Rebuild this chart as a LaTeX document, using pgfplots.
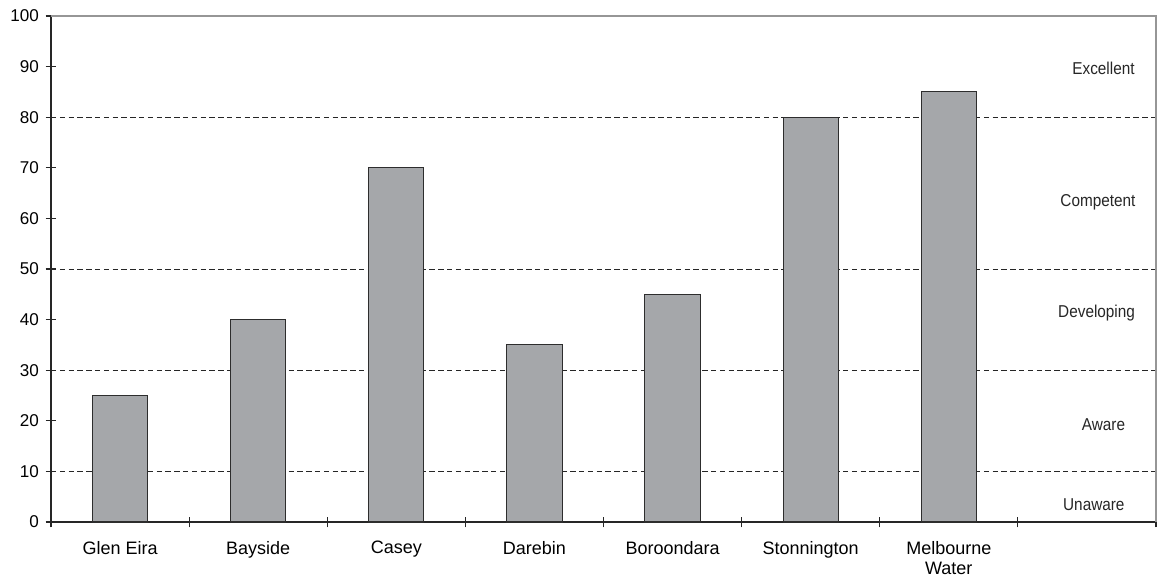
\documentclass[border=0pt]{standalone}
\usepackage{fontspec}
\setmainfont{Liberation Sans}
\usepackage{pgfplots}
\pgfplotsset{compat=1.18}

\definecolor{barfill}{RGB}{165,167,170}
\definecolor{baredge}{RGB}{45,45,45}
\definecolor{framegray}{RGB}{150,150,150}

\begin{document}
\begin{tikzpicture}[x=1pt,y=1pt]
\begin{axis}[
  scale only axis,
  width=828.75pt, height=379.5pt,
  xmin=-0.5, xmax=7.5,
  ymin=0, ymax=100,
  axis x line*=bottom, axis y line*=left,
  axis line style={-, line width=0.8pt, black!85},
  tick align=center,
  major tick length=8pt,
  tick style={line width=0.8pt, black!85},
  ytick={0,10,...,100},
  % slot boundaries carry the tick marks
  xtick={-0.5,0.5,...,7.5},
  xticklabels={},
  % category names sit under the bars, without marks
  extra x ticks={0,1,...,6},
  extra x tick labels={Glen Eira,Bayside,Casey,Darebin,Boroondara,Stonnington,Melbourne\\Water},
  extra x tick style={major tick length=0pt, tick style={draw=none},
    xticklabel style={font=\fontsize{13.5}{15}\selectfont, align=center, text=black}},
  yticklabel style={font=\fontsize{12.8}{14}\selectfont, text=black},
  /pgf/number format/assume math mode=true,
  xticklabel shift=11pt,
  yticklabel shift=1.5pt,
  clip=false,
]
% zone boundaries
\addplot[black!85, dashed, dash pattern=on 4pt off 2.6pt, line width=0.6pt] coordinates {(-0.5,10) (7.5,10)};
\addplot[black!85, dashed, dash pattern=on 4pt off 2.6pt, line width=0.6pt] coordinates {(-0.5,30) (7.5,30)};
\addplot[black!85, dashed, dash pattern=on 4pt off 2.6pt, line width=0.6pt] coordinates {(-0.5,50) (7.5,50)};
\addplot[black!85, dashed, dash pattern=on 4pt off 2.6pt, line width=0.6pt] coordinates {(-0.5,80) (7.5,80)};

% scores
\addplot[ybar, bar width=0.4, fill=barfill, draw=baredge, line width=0.8pt]
  coordinates {(0,25) (1,40) (2,70) (3,35) (4,45) (5,80) (6,85)};

% upper and right frame
\draw[framegray, line width=0.8pt] (rel axis cs:0,1) -- (rel axis cs:1,1) -- (rel axis cs:1,0);

% zone names
\begin{scope}[every node/.style={font=\fontsize{11.5}{13}\selectfont, text=black!85, yscale=1.12}]
\node at (axis cs:7.12,89.6) {Excellent};
\node at (axis cs:7.08,63.2) {Competent};
\node at (axis cs:7.07,41.2) {Developing};
\node at (axis cs:7.12,19.3) {Aware};
\node at (axis cs:7.05,3.4) {Unaware};
\end{scope}
\end{axis}
\pgfresetboundingbox
\path[use as bounding box] (-38.25,-45) rectangle (830.25,391.5);
\end{tikzpicture}
\end{document}
